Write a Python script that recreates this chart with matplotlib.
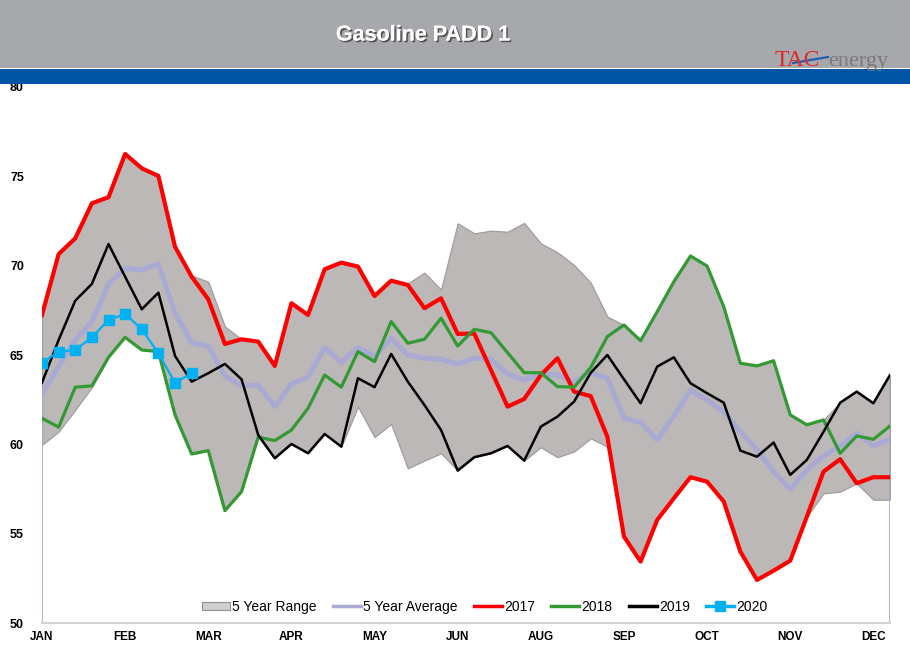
import numpy as np
import matplotlib
matplotlib.use("Agg")
import matplotlib.pyplot as plt
import matplotlib.patheffects as pe
from matplotlib.patches import Rectangle, Patch
from matplotlib.lines import Line2D

############## DATA #################
weeks = np.arange(52)
month_ticks = [0, 5, 10, 15, 20, 25, 30, 35, 40, 45, 50]
month_labels = ["JAN", "FEB", "MAR", "APR", "MAY", "JUN", "AUG", "SEP", "OCT", "NOV", "DEC"]

range_low = [59.97, 60.71, 61.93, 63.2, 64.87, 65.99, 65.28, 65.19, 61.65, 59.46,
             59.65, 56.29, 57.35, 60.4, 59.22, 60.02, 59.5, 60.58, 59.87, 62.11,
             60.4, 61.14, 58.66, 59.09, 59.5, 58.53, 59.28, 59.5, 59.91, 59.09,
             59.84, 59.28, 59.6, 60.34, 59.87, 54.84, 53.44, 55.77, 56.98, 58.16,
             57.91, 56.8, 54.0, 52.41, 52.93, 53.49, 55.95, 57.26, 57.35, 57.82,
             56.9, 56.9]
range_high = [67.24, 70.65, 71.53, 73.49, 73.83, 76.25, 75.45, 75.02, 71.06, 69.45,
              69.1, 66.6, 65.88, 65.75, 64.39, 67.9, 67.24, 69.8, 70.17, 69.95,
              68.3, 69.16, 69.0, 69.61, 68.66, 72.37, 71.81, 71.96, 71.9, 72.39,
              71.25, 70.75, 70.04, 69.05, 67.15, 66.68, 65.8, 67.43, 69.1, 70.54,
              69.98, 67.71, 64.54, 64.39, 64.68, 61.65, 61.09, 61.37, 62.33, 62.95,
              62.3, 63.88]
avg5 = [62.82, 64.35, 65.84, 66.87, 68.98, 69.85, 69.76, 70.1, 67.34, 65.69,
        65.5, 63.83, 63.27, 63.32, 62.11, 63.38, 63.76, 65.42, 64.57, 65.43,
        64.91, 65.94, 65.0, 64.82, 64.76, 64.5, 64.82, 64.76, 63.94, 63.6,
        63.94, 63.88, 63.51, 64.0, 63.7, 61.46, 61.22, 60.25, 61.59, 63.04,
        62.48, 61.83, 60.71, 59.69, 58.47, 57.49, 58.57, 59.35, 59.91, 60.62,
        59.91, 60.28]
y2017 = [67.24, 70.65, 71.53, 73.49, 73.83, 76.25, 75.45, 75.02, 71.06, 69.38,
         68.12, 65.62, 65.88, 65.75, 64.39, 67.9, 67.24, 69.8, 70.17, 69.95,
         68.3, 69.16, 68.92, 67.62, 68.17, 66.18, 66.2, 64.16, 62.11, 62.54,
         63.88, 64.82, 62.95, 62.7, 60.43, 54.84, 53.44, 55.77, 56.98, 58.16,
         57.91, 56.8, 54.0, 52.41, 52.93, 53.49, 55.95, 58.47, 59.17, 57.82,
         58.16, 58.16]
y2018 = [61.46, 60.96, 63.2, 63.27, 64.87, 65.99, 65.28, 65.19, 61.65, 59.46,
         59.65, 56.29, 57.35, 60.4, 60.21, 60.8, 62.02, 63.88, 63.2, 65.19,
         64.63, 66.87, 65.66, 65.88, 67.06, 65.5, 66.44, 66.25, 65.13, 64.01,
         64.01, 63.23, 63.2, 64.3, 66.03, 66.68, 65.8, 67.43, 69.1, 70.54,
         69.98, 67.71, 64.54, 64.39, 64.68, 61.65, 61.09, 61.37, 59.5, 60.47,
         60.28, 61.03]
y2019 = [63.45, 65.84, 68.04, 68.98, 71.21, 69.38, 67.56, 68.49, 64.95, 63.51,
         63.98, 64.5, 63.64, 60.53, 59.22, 60.02, 59.5, 60.58, 59.87, 63.7,
         63.2, 65.06, 63.51, 62.2, 60.8, 58.53, 59.28, 59.5, 59.91, 59.09,
         60.99, 61.55, 62.39, 64.0, 65.0, 63.64, 62.3, 64.35, 64.87, 63.42,
         62.86, 62.33, 59.65, 59.31, 60.1, 58.29, 59.13, 60.7, 62.33, 62.95,
         62.3, 63.88]
y2020 = [64.57, 65.19, 65.28, 65.99, 66.96, 67.3, 66.44, 65.1, 63.45, 63.98]

############## FIGURE #################
fig = plt.figure(figsize=(9.1, 6.61), dpi=100)
H = 661.0
W = 910.0

# header band, blue stripe
fig.patches.append(Rectangle((0, 1 - 68 / H), 1, 68 / H, transform=fig.transFigure,
                             facecolor="#a7a8ab", edgecolor="none", zorder=0))
fig.patches.append(Rectangle((0, 1 - 84 / H), 1, 15 / H, transform=fig.transFigure,
                             facecolor="#0054a6", edgecolor="none", zorder=0))

fig.text(423 / W, 1 - 35 / H, "Gasoline PADD 1", color="white", fontsize=15.5,
         fontweight="bold", family=["Liberation Sans", "DejaVu Sans"],
         ha="center", va="center",
         path_effects=[pe.withSimplePatchShadow(offset=(1.2, -1.2), shadow_rgbFace="#4a4a4a", alpha=0.9),
                       pe.Normal()])

# logo
fig.text(775 / W, 1 - 66 / H, "TAC", color="#e0282a", fontsize=17,
         family=["Liberation Serif", "DejaVu Serif"], ha="left", va="baseline")
fig.text(828 / W, 1 - 66 / H, "energy", color="#7a7a7a", fontsize=16,
         family=["Liberation Serif", "DejaVu Serif"], ha="left", va="baseline")
fig.lines.append(Line2D([793 / W, 828 / W], [1 - 63 / H, 1 - 57 / H], transform=fig.transFigure,
                        color="#1f5fb0", lw=1.6))

ax = fig.add_axes([42 / W, 1 - 623 / H, 848 / W, 536 / H])

ax.fill_between(weeks, range_low, range_high, facecolor="#bcb8b8", edgecolor="#a19d9d",
                linewidth=0.9, zorder=1)
ax.plot(weeks, avg5, color="#a9a9d3", lw=3.6, zorder=2, solid_joinstyle="round")
ax.plot([0, 0], [50, avg5[0]], color="#a9a9d3", lw=1.3, zorder=2)
ax.plot([51, 51], [50, avg5[-1]], color="#a9a9d3", lw=1.3, zorder=2)
ax.plot(weeks, y2017, color="#ff0000", lw=3.0, zorder=3)
ax.plot(weeks, y2018, color="#339933", lw=2.3, zorder=4)
ax.plot(weeks, y2019, color="#000000", lw=1.8, zorder=5)
ax.plot(weeks[:len(y2020)], y2020, color="#00b0f0", lw=1.6, marker="s", markersize=7,
        zorder=6)

ax.set_xlim(0, 51)
ax.set_ylim(50, 80)
ax.set_yticks(range(50, 81, 5))
ax.set_xticks(month_ticks)
ax.set_xticklabels(month_labels)
for lab in ax.get_yticklabels():
    lab.set_fontweight("bold")
    lab.set_family(["Liberation Sans Narrow", "Liberation Sans", "DejaVu Sans"])
    lab.set_fontsize(9)
for lab in ax.get_xticklabels():
    lab.set_fontweight("bold")
    lab.set_family(["Liberation Sans", "DejaVu Sans"])
    lab.set_fontsize(8.5)
ax.tick_params(axis="y", length=0, pad=13)
ax.tick_params(axis="x", length=0, pad=6)

for side in ["top", "right", "left"]:
    ax.spines[side].set_visible(False)
ax.spines["bottom"].set_color("#d4d4d4")
ax.spines["bottom"].set_linewidth(1.5)

handles = [
    Patch(facecolor="#cfcfcf", edgecolor="#8f8f8f", linewidth=0.8),
    Line2D([], [], color="#a9a9d3", lw=2.5),
    Line2D([], [], color="#ff0000", lw=2.5),
    Line2D([], [], color="#339933", lw=2.5),
    Line2D([], [], color="#000000", lw=2.5),
    Line2D([], [], color="#00b0f0", lw=2.5, marker="s", markersize=7),
]
labels = ["5 Year Range", "5 Year Average", "2017", "2018", "2019", "2020"]
leg = ax.legend(handles, labels, loc="center", bbox_to_anchor=(0.522, 0.03), ncol=6,
                frameon=False, handlelength=2.0, handleheight=0.5,
                handletextpad=0.15, columnspacing=1.2,
                prop={"family": ["Liberation Sans", "DejaVu Sans"], "size": 10})

fig.savefig("out.png", dpi=100)
